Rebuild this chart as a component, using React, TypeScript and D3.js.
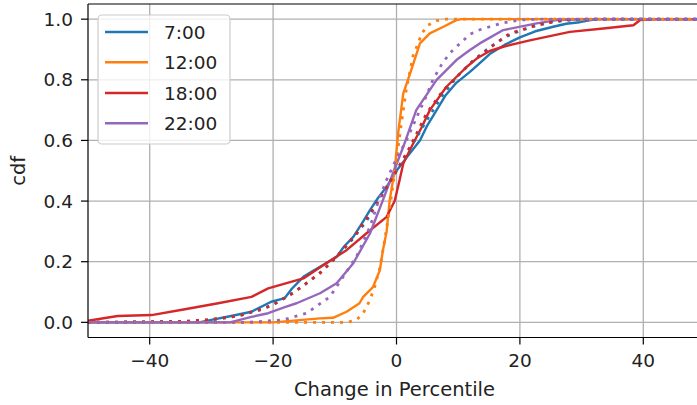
import React from "react";
import * as d3 from "d3";

// ---- data ----
const seriesNames = ["7:00", "12:00", "18:00", "22:00"];
const seriesColors = ["#1f77b4", "#ff7f0e", "#d62728", "#9467bd"];
const xTicks = [-40, -20, 0, 20, 40];
const yTicks = [0, 0.2, 0.4, 0.6, 0.8, 1.0];

// empirical cdfs (solid)
const blueX = [-50, -32, -30, -26.8, -23.5, -20.3, -18.1, -17, -15.1, -13.5, -12.4, -11, -9.7, -8.5, -7, -5.5, -4.3, -3, -1.6, 0, 1.5, 3.8, 5, 6.5, 8, 9.7, 11.9, 13.5, 15.1, 17.5, 20, 22.5, 25.4, 27.5, 29.7, 32.4, 50];
const blueY = [0, 0, 0.008, 0.021, 0.035, 0.068, 0.08, 0.11, 0.15, 0.17, 0.183, 0.2, 0.216, 0.25, 0.282, 0.33, 0.37, 0.41, 0.447, 0.5, 0.54, 0.6, 0.65, 0.7, 0.75, 0.79, 0.826, 0.855, 0.885, 0.915, 0.94, 0.96, 0.975, 0.985, 0.99, 1.0, 1.0];
const orangeX = [-50, -20, -12.4, -10.3, -8.1, -6, -5.4, -4.3, -3.8, -2.7, -2.2, -1.6, -1.1, -0.3, 0.3, 1.1, 2.2, 3.8, 5.4, 7.6, 9.7, 10.5, 50];
const orangeY = [0, 0, 0.013, 0.015, 0.035, 0.063, 0.084, 0.106, 0.117, 0.172, 0.238, 0.3, 0.403, 0.502, 0.63, 0.755, 0.82, 0.92, 0.953, 0.975, 0.997, 1.0, 1.0];
const redX = [-50, -45.2, -39.7, -34.3, -28.9, -23.5, -20.8, -18.1, -15.1, -11.4, -8.1, -4.9, -1.6, -0.3, 0.5, 1.1, 2.7, 4.0, 5.4, 8.1, 11.4, 13, 15.1, 17.3, 21.6, 28.1, 33.5, 38.4, 39.5, 42, 50];
const redY = [0.005, 0.021, 0.024, 0.043, 0.063, 0.084, 0.112, 0.128, 0.145, 0.195, 0.238, 0.293, 0.348, 0.4, 0.469, 0.524, 0.59, 0.64, 0.7, 0.777, 0.843, 0.87, 0.895, 0.909, 0.93, 0.958, 0.969, 0.98, 0.997, 1.0, 1.0];
const purpleX = [-50, -27, -23.5, -20.8, -18.1, -16.2, -12.4, -9.7, -7, -4.3, -2.2, -0.6, 1.1, 3.2, 6.5, 9.7, 11.9, 13.5, 17.3, 22.7, 26, 32, 50];
const purpleY = [0, 0, 0.018, 0.03, 0.05, 0.063, 0.096, 0.129, 0.195, 0.293, 0.403, 0.49, 0.579, 0.7, 0.8, 0.865, 0.898, 0.92, 0.964, 0.986, 0.997, 1.0, 1.0];

// fitted cdfs (dotted)
const blueFitX = [-50, -33, -30, -27.5, -25, -22.5, -20, -17.5, -15, -12.5, -10, -7.5, -5, -2.5, 0, 2.5, 5, 7.5, 10, 12.5, 15, 17.5, 20, 22.5, 25, 28, 32, 50];
const blueFitY = [0, 0.003, 0.008, 0.015, 0.025, 0.038, 0.058, 0.088, 0.122, 0.162, 0.21, 0.265, 0.33, 0.415, 0.5, 0.585, 0.67, 0.75, 0.815, 0.865, 0.905, 0.94, 0.962, 0.978, 0.99, 0.997, 1.0, 1.0];
const orangeFitX = [-50, -8, -6.5, -5.4, -4.3, -3.5, -2.7, -2, -1, 0, 1.1, 1.6, 2.2, 2.7, 3.5, 4.1, 5.1, 6.5, 8, 50];
const orangeFitY = [0, 0, 0.008, 0.03, 0.074, 0.12, 0.18, 0.26, 0.39, 0.54, 0.7, 0.77, 0.83, 0.88, 0.92, 0.953, 0.98, 0.995, 1.0, 1.0];
const redFitX = [-50, -35, -31, -28.9, -26.8, -25.1, -23.5, -21.4, -19.6, -16.8, -14.6, -12.4, -9.7, -6.5, -3.2, 0, 2.2, 4.9, 7.6, 10.3, 12, 15.1, 18.4, 22.7, 27, 30, 50];
const redFitY = [0, 0.003, 0.008, 0.013, 0.018, 0.024, 0.035, 0.046, 0.063, 0.096, 0.129, 0.162, 0.216, 0.293, 0.392, 0.5, 0.579, 0.69, 0.766, 0.82, 0.855, 0.905, 0.953, 0.98, 0.997, 1.0, 1.0];
const purpleFitX = [-50, -24, -21.4, -18.4, -14.6, -10.8, -6.5, -4.3, -2.7, -1.6, 0, 1.6, 2.7, 3.8, 4.9, 5.9, 7.3, 8.6, 10.3, 11.9, 13.5, 15.1, 17.3, 20, 23, 50];
const purpleFitY = [0, 0, 0.004, 0.008, 0.03, 0.084, 0.216, 0.315, 0.414, 0.47, 0.54, 0.6, 0.65, 0.7, 0.75, 0.8, 0.85, 0.887, 0.92, 0.95, 0.965, 0.975, 0.988, 0.997, 1.0, 1.0];

const solidX = [blueX, orangeX, redX, purpleX];
const solidY = [blueY, orangeY, redY, purpleY];
const fitX = [blueFitX, orangeFitX, redFitX, purpleFitX];
const fitY = [blueFitY, orangeFitY, redFitY, purpleFitY];

const W = 697;
const H = 405;
const left = 88;
const right = 705;
const top = 4;
const bottom = 337.5;
const FONT = "DejaVu Sans";
const FS = 18.5;

const fmtX = (v: number) => (v < 0 ? "\u2212" + Math.abs(v) : String(v));

export default function App() {
  const x = d3.scaleLinear().domain([-50, 50]).range([left, right]);
  const y = d3.scaleLinear().domain([-0.05, 1.05]).range([bottom, top]);
  const line = d3
    .line<[number, number]>()
    .x((d) => x(d[0]))
    .y((d) => y(d[1]));
  const pts = (xs: number[], ys: number[]) => xs.map((v, i) => [v, ys[i]] as [number, number]);

  const legendRows = [32, 62.3, 93, 123.3];

  return (
    <svg width={W} height={H} style={{ position: "absolute", left: 0, top: 0, background: "#fff" }} fontFamily={FONT}>
      <defs>
        <clipPath id="plot">
          <rect x={left} y={top} width={right - left} height={bottom - top} />
        </clipPath>
      </defs>
      <rect x={0} y={0} width={W} height={H} fill="#fff" />
      {/* grid */}
      <g stroke="#b0b0b0" strokeWidth={1.3}>
        {xTicks.map((t) => (
          <line key={"gx" + t} x1={x(t)} x2={x(t)} y1={top} y2={bottom} />
        ))}
        {yTicks.map((t) => (
          <line key={"gy" + t} x1={left} x2={right} y1={y(t)} y2={y(t)} />
        ))}
      </g>
      {/* lines */}
      <g clipPath="url(#plot)" fill="none">
        {solidX.map((xs, i) => (
          <path key={"s" + i} d={line(pts(xs, solidY[i])) || ""} stroke={seriesColors[i]} strokeWidth={2.4} strokeLinejoin="round" />
        ))}
        {fitX.map((xs, i) => (
          <path key={"f" + i} d={line(pts(xs, fitY[i])) || ""} stroke={seriesColors[i]} strokeWidth={2.8} strokeDasharray="3 6" />
        ))}
      </g>
      {/* spines */}
      <g stroke="#000" strokeWidth={1.2} fill="none">
        <line x1={left} x2={left} y1={top} y2={bottom} />
        <line x1={left} x2={right} y1={bottom} y2={bottom} />
        <line x1={left} x2={right} y1={top} y2={top} />
      </g>
      {/* x ticks */}
      <g>
        {xTicks.map((t) => (
          <g key={"xt" + t}>
            <line x1={x(t)} x2={x(t)} y1={bottom} y2={bottom + 7} stroke="#000" strokeWidth={1.2} />
            <text x={x(t)} y={366.5} fontSize={FS} textAnchor="middle" fill="#222">
              {fmtX(t)}
            </text>
          </g>
        ))}
      </g>
      {/* y ticks */}
      <g>
        {yTicks.map((t) => (
          <g key={"yt" + t}>
            <line x1={left - 7} x2={left} y1={y(t)} y2={y(t)} stroke="#000" strokeWidth={1.2} />
            <text x={73} y={y(t)} dy="0.36em" fontSize={FS} textAnchor="end" fill="#222">
              {t.toFixed(1)}
            </text>
          </g>
        ))}
      </g>
      {/* axis labels */}
      <text x={(left + right) / 2 - 2} y={396} fontSize={19.5} textAnchor="middle" fill="#222">
        Change in Percentile
      </text>
      <text transform={`translate(25,${(top + bottom) / 2}) rotate(-90)`} fontSize={19.5} textAnchor="middle" fill="#222">
        cdf
      </text>
      {/* legend */}
      <g>
        <rect x={98} y={15} width={132} height={129} rx={4} fill="#fff" fillOpacity={0.8} stroke="#cccccc" strokeWidth={1.2} />
        {seriesNames.map((n, i) => (
          <g key={"lg" + n}>
            <line x1={105} x2={148} y1={legendRows[i]} y2={legendRows[i]} stroke={seriesColors[i]} strokeWidth={2.4} />
            <text x={164} y={legendRows[i]} dy="0.36em" fontSize={FS} fill="#222">
              {n}
            </text>
          </g>
        ))}
      </g>
    </svg>
  );
}
